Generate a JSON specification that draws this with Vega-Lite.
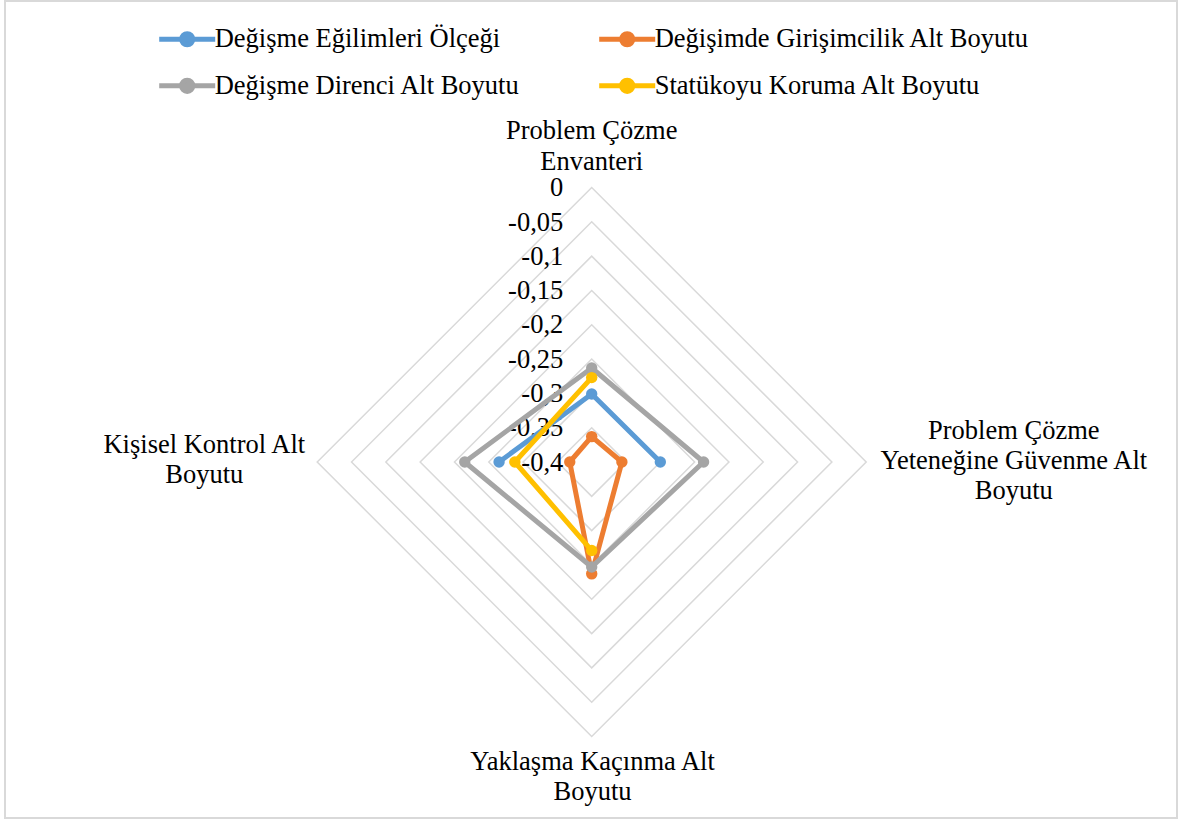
{
  "$schema": "https://vega.github.io/schema/vega-lite/v6.json",
  "width": 1172,
  "height": 817,
  "autosize": {"type": "none"},
  "padding": {"left": 5, "top": 1, "right": 1, "bottom": 2},
  "background": "white",
  "config": {
    "view": {"stroke": "#d9d9d9", "strokeWidth": 2},
    "font": "Liberation Serif"
  },
  "datasets": {
    "series": [
      {"series": "Değişme Eğilimleri Ölçeği", "PCE": -0.301, "PCYG": -0.300, "YK": null, "KK": -0.265},
      {"series": "Değişimde Girişimcilik Alt Boyutu", "PCE": -0.363, "PCYG": -0.356, "YK": -0.237, "KK": -0.368},
      {"series": "Değişme Direnci Alt Boyutu", "PCE": -0.263, "PCYG": -0.237, "YK": -0.247, "KK": -0.215},
      {"series": "Statükoyu Koruma Alt Boyutu", "PCE": -0.277, "PCYG": null, "YK": -0.271, "KK": -0.288}
    ],
    "grid": [
      {"level": 0, "label": "0"},
      {"level": -0.05, "label": "-0,05"},
      {"level": -0.1, "label": "-0,1"},
      {"level": -0.15, "label": "-0,15"},
      {"level": -0.2, "label": "-0,2"},
      {"level": -0.25, "label": "-0,25"},
      {"level": -0.3, "label": "-0,3"},
      {"level": -0.35, "label": "-0,35"},
      {"level": -0.4, "label": "-0,4"}
    ],
    "categories": [
      {"axis": "PCE", "label": "Problem Çözme\nEnvanteri"},
      {"axis": "PCYG", "label": "Problem Çözme\nYeteneğine Güvenme Alt\nBoyutu"},
      {"axis": "YK", "label": "Yaklaşma Kaçınma Alt\nBoyutu"},
      {"axis": "KK", "label": "Kişisel Kontrol Alt\nBoyutu"}
    ]
  },
  "layer": [
    {
      "data": {"name": "grid"},
      "transform": [
        {"calculate": "datum.level + 0.4", "as": "r"},
        {"filter": "datum.r > 0.001"}
      ],
      "mark": {"type": "point", "shape": "diamond", "filled": false, "color": "#d9d9d9", "strokeWidth": 1.5, "opacity": 1},
      "encoding": {
        "x": {"datum": 0, "type": "quantitative", "scale": {"domain": [-0.85494, 0.8529], "nice": false, "zero": false}, "axis": null},
        "y": {"datum": 0, "type": "quantitative", "scale": {"domain": [-0.51876, 0.67177], "nice": false, "zero": false}, "axis": null},
        "size": {"field": "r", "type": "quantitative", "scale": {"type": "pow", "exponent": 2, "domain": [0, 0.4], "range": [0, 301401]}, "legend": null}
      }
    },
    {
      "data": {"name": "grid"},
      "transform": [
        {"calculate": "datum.level + 0.4", "as": "r"}
      ],
      "mark": {"type": "text", "align": "right", "baseline": "alphabetic", "dx": -28.4, "dy": 8.7, "fontSize": 26.5, "font": "Liberation Serif", "color": "black"},
      "encoding": {
        "x": {"datum": 0, "type": "quantitative", "scale": {"domain": [-0.85494, 0.8529], "nice": false, "zero": false}, "axis": null},
        "y": {"field": "r", "type": "quantitative", "scale": {"domain": [-0.51876, 0.67177], "nice": false, "zero": false}, "axis": null},
        "text": {"field": "label"}
      }
    },
    {
      "data": {"name": "series"},
      "transform": [
        {"fold": ["PCE", "PCYG", "YK", "KK", "PCE"], "as": ["axis", "value"]},
        {"calculate": "datum.value === null ? null : (datum.axis === 'PCYG' ? datum.value + 0.4 : (datum.axis === 'KK' ? -(datum.value + 0.4) : 0))", "as": "x"},
        {"calculate": "datum.value === null ? null : (datum.axis === 'PCE' ? datum.value + 0.4 : (datum.axis === 'YK' ? -(datum.value + 0.4) : 0))", "as": "y"}
      ],
      "mark": {"type": "line", "strokeWidth": 5, "strokeJoin": "round", "strokeCap": "round", "invalid": "break-paths-filter-domains"},
      "encoding": {
        "x": {"field": "x", "type": "quantitative", "scale": {"domain": [-0.85494, 0.8529], "nice": false, "zero": false}, "axis": null},
        "y": {"field": "y", "type": "quantitative", "scale": {"domain": [-0.51876, 0.67177], "nice": false, "zero": false}, "axis": null},
        "order": {"value": null},
        "color": {
          "field": "series",
          "type": "nominal",
          "scale": {
            "domain": ["Değişme Eğilimleri Ölçeği", "Değişimde Girişimcilik Alt Boyutu", "Değişme Direnci Alt Boyutu", "Statükoyu Koruma Alt Boyutu"],
            "range": ["#5B9BD5", "#ED7D31", "#A5A5A5", "#FFC000"]
          },
          "legend": {
            "title": null,
            "orient": "none",
            "direction": "horizontal",
            "legendX": 151.7,
            "legendY": 7.3,
            "columns": 2,
            "columnPadding": 68,
            "rowPadding": -2,
            "padding": 0,
            "symbolType": "M-1,0L1,0M-0.2,0A0.2,0.2,0,1,1,0.2,0A0.2,0.2,0,1,1,-0.2,0Z",
            "symbolSize": 3136,
            "symbolStrokeWidth": 5,
            "labelFont": "Liberation Serif",
            "labelFontSize": 26.5,
            "labelColor": "black",
            "labelOffset": -3,
            "labelLimit": 0,
            "encode": {
              "symbols": {
                "update": {
                  "fill": {"scale": "color", "field": "value"},
                  "stroke": {"scale": "color", "field": "value"},
                  "strokeWidth": {"value": 5},
                  "opacity": {"value": 1}
                }
              }
            }
          }
        }
      }
    },
    {
      "data": {"name": "series"},
      "transform": [
        {"fold": ["PCE", "PCYG", "YK", "KK"], "as": ["axis", "value"]},
        {"filter": "datum.value !== null"},
        {"calculate": "datum.axis === 'PCYG' ? datum.value + 0.4 : (datum.axis === 'KK' ? -(datum.value + 0.4) : 0)", "as": "x"},
        {"calculate": "datum.axis === 'PCE' ? datum.value + 0.4 : (datum.axis === 'YK' ? -(datum.value + 0.4) : 0)", "as": "y"}
      ],
      "mark": {"type": "point", "filled": true, "size": 130, "opacity": 1},
      "encoding": {
        "x": {"field": "x", "type": "quantitative", "scale": {"domain": [-0.85494, 0.8529], "nice": false, "zero": false}, "axis": null},
        "y": {"field": "y", "type": "quantitative", "scale": {"domain": [-0.51876, 0.67177], "nice": false, "zero": false}, "axis": null},
        "color": {
          "field": "series",
          "type": "nominal",
          "scale": {
            "domain": ["Değişme Eğilimleri Ölçeği", "Değişimde Girişimcilik Alt Boyutu", "Değişme Direnci Alt Boyutu", "Statükoyu Koruma Alt Boyutu"],
            "range": ["#5B9BD5", "#ED7D31", "#A5A5A5", "#FFC000"]
          }
        }
      }
    },
    {
      "data": {"name": "categories"},
      "transform": [
        {"filter": "datum.axis === 'PCE'"},
        {"calculate": "0", "as": "x"},
        {"calculate": "0.4", "as": "y"}
      ],
      "mark": {"type": "text", "align": "center", "baseline": "alphabetic", "dx": 0, "dy": -49, "lineBreak": "\n", "lineHeight": 31, "fontSize": 26.5, "font": "Liberation Serif", "color": "black"},
      "encoding": {
        "x": {"field": "x", "type": "quantitative", "scale": {"domain": [-0.85494, 0.8529], "nice": false, "zero": false}, "axis": null},
        "y": {"field": "y", "type": "quantitative", "scale": {"domain": [-0.51876, 0.67177], "nice": false, "zero": false}, "axis": null},
        "text": {"field": "label"}
      }
    },
    {
      "data": {"name": "categories"},
      "transform": [
        {"filter": "datum.axis === 'PCYG'"},
        {"calculate": "0.4", "as": "x"},
        {"calculate": "0", "as": "y"}
      ],
      "mark": {"type": "text", "align": "center", "baseline": "alphabetic", "dx": 147.6, "dy": -22.7, "lineBreak": "\n", "lineHeight": 30, "fontSize": 26.5, "font": "Liberation Serif", "color": "black"},
      "encoding": {
        "x": {"field": "x", "type": "quantitative", "scale": {"domain": [-0.85494, 0.8529], "nice": false, "zero": false}, "axis": null},
        "y": {"field": "y", "type": "quantitative", "scale": {"domain": [-0.51876, 0.67177], "nice": false, "zero": false}, "axis": null},
        "text": {"field": "label"}
      }
    },
    {
      "data": {"name": "categories"},
      "transform": [
        {"filter": "datum.axis === 'YK'"},
        {"calculate": "0", "as": "x"},
        {"calculate": "-0.4", "as": "y"}
      ],
      "mark": {"type": "text", "align": "center", "baseline": "alphabetic", "dx": 0.8, "dy": 33.5, "lineBreak": "\n", "lineHeight": 30, "fontSize": 26.5, "font": "Liberation Serif", "color": "black"},
      "encoding": {
        "x": {"field": "x", "type": "quantitative", "scale": {"domain": [-0.85494, 0.8529], "nice": false, "zero": false}, "axis": null},
        "y": {"field": "y", "type": "quantitative", "scale": {"domain": [-0.51876, 0.67177], "nice": false, "zero": false}, "axis": null},
        "text": {"field": "label"}
      }
    },
    {
      "data": {"name": "categories"},
      "transform": [
        {"filter": "datum.axis === 'KK'"},
        {"calculate": "-0.4", "as": "x"},
        {"calculate": "0", "as": "y"}
      ],
      "mark": {"type": "text", "align": "center", "baseline": "alphabetic", "dx": -112.9, "dy": -8.7, "lineBreak": "\n", "lineHeight": 30, "fontSize": 26.5, "font": "Liberation Serif", "color": "black"},
      "encoding": {
        "x": {"field": "x", "type": "quantitative", "scale": {"domain": [-0.85494, 0.8529], "nice": false, "zero": false}, "axis": null},
        "y": {"field": "y", "type": "quantitative", "scale": {"domain": [-0.51876, 0.67177], "nice": false, "zero": false}, "axis": null},
        "text": {"field": "label"}
      }
    }
  ]
}
